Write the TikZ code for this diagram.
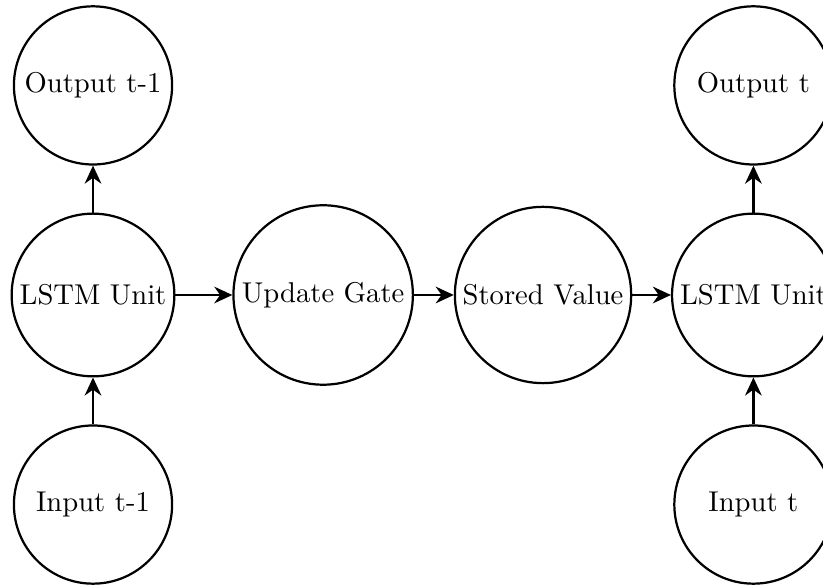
\documentclass[tikz,border=0pt]{standalone}
\usepackage{amsmath, amssymb}
\usepackage{tikz}
\usetikzlibrary{arrows.meta}

\begin{document}
\begin{tikzpicture}[
    >={Stealth[length=6.5pt, width=6pt]},
    unit/.style={circle, draw, thick, minimum size=2cm, inner sep=2.3pt},
    every node/.style={font=\fontsize{10.3pt}{12pt}\selectfont}
  ]
  \useasboundingbox (-1.176,-3.70) rectangle (9.23,3.73);

  % Step t-1
  \node[unit] (out1)  at (0,2.65)  {Output t-1};
  \node[unit] (lstm1) at (0,0)     {LSTM Unit};
  \node[unit] (in1)   at (0,-2.65) {Input t-1};

  % Memory
  \node[unit] (gate)  at (2.91,0)  {Update Gate};
  \node[unit] (store) at (5.69,0)  {Stored Value};

  % Step t
  \node[unit] (out2)  at (8.35,2.65)  {Output t};
  \node[unit] (lstm2) at (8.35,0)     {LSTM Unit};
  \node[unit] (in2)   at (8.35,-2.65) {Input t};

  % Arrows
  \draw[->, thick] (in1) -- (lstm1);
  \draw[->, thick] (lstm1) -- (out1);
  \draw[->, thick] (lstm1) -- (gate);
  \draw[->, thick] (gate) -- (store);
  \draw[->, thick] (store) -- (lstm2);
  \draw[->, thick] (in2) -- (lstm2);
  \draw[->, thick] (lstm2) -- (out2);
\end{tikzpicture}
\end{document}
